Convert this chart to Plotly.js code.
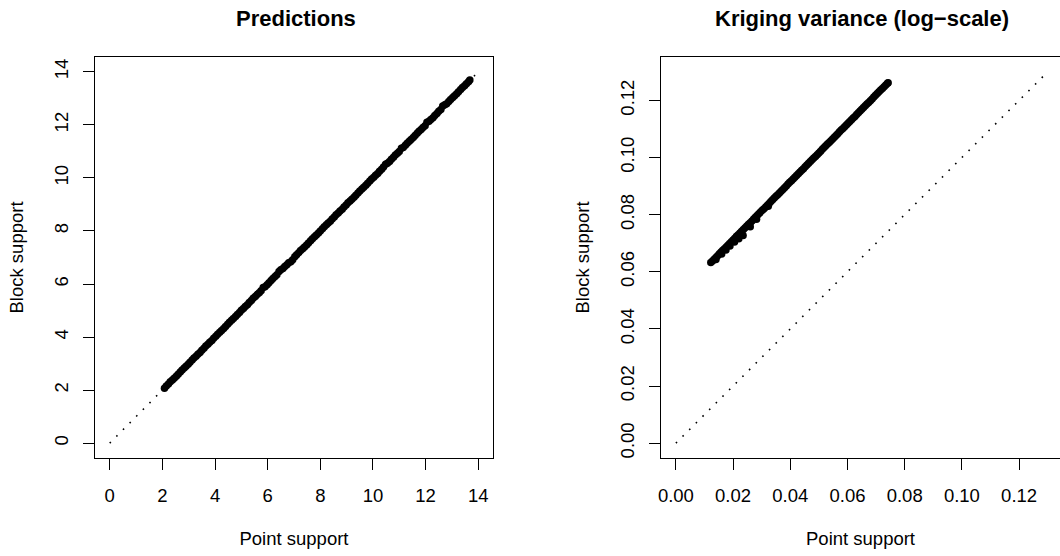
<!DOCTYPE html>
<html>
<head>
<meta charset="utf-8">
<script src="https://cdn.plot.ly/plotly-3.0.1.min.js"></script>
<style>html,body{margin:0;padding:0;background:#fff;}#chart{width:1060px;height:556px;}</style>
</head>
<body>
<div id="chart"></div>
<script>
// Left panel: predictions (point support vs block support)
const predPoint = [2.08,2.15,2.23,2.30,2.38,2.45,2.53,2.60,2.68,2.75,2.83,2.90,2.98,3.05,3.13,3.20,3.28,3.35,3.43,3.50,3.58,3.65,3.73,3.80,3.88,3.95,4.03,4.10,4.18,4.25,4.33,4.40,4.48,4.55,4.63,4.70,4.78,4.85,4.93,5.00,5.08,5.15,5.23,5.30,5.38,5.45,5.53,5.60,5.68,5.75,5.83,5.90,5.98,6.05,6.13,6.20,6.28,6.35,6.43,6.50,6.58,6.65,6.73,6.80,6.88,6.95,7.03,7.10,7.18,7.25,7.33,7.40,7.48,7.55,7.63,7.70,7.78,7.85,7.93,8.00,8.08,8.15,8.23,8.30,8.38,8.45,8.53,8.60,8.68,8.75,8.83,8.90,8.98,9.05,9.13,9.20,9.28,9.35,9.43,9.50,9.58,9.65,9.73,9.80,9.88,9.95,10.03,10.10,10.18,10.25,10.33,10.40,10.48,10.55,10.63,10.70,10.78,10.85,10.93,11.00,11.08,11.15,11.23,11.30,11.38,11.45,11.53,11.60,11.68,11.75,11.83,11.90,11.98,12.05,12.13,12.20,12.28,12.35,12.43,12.50,12.58,12.65,12.73,12.80,12.88,12.95,13.03,13.10,13.18,13.25,13.33,13.40,13.48,13.55,13.63,13.68];
const predBlock = [2.07,2.15,2.23,2.31,2.38,2.45,2.52,2.60,2.68,2.76,2.83,2.90,2.97,3.05,3.13,3.21,3.28,3.35,3.42,3.50,3.58,3.66,3.73,3.80,3.87,3.95,4.03,4.11,4.18,4.25,4.32,4.40,4.48,4.56,4.63,4.70,4.77,4.85,4.93,5.01,5.08,5.15,5.22,5.30,5.38,5.46,5.53,5.60,5.67,5.75,5.87,5.90,5.97,6.05,6.13,6.21,6.28,6.35,6.47,6.54,6.58,6.66,6.73,6.80,6.84,6.91,7.03,7.10,7.18,7.26,7.33,7.40,7.47,7.55,7.63,7.71,7.78,7.85,7.92,8.00,8.08,8.16,8.23,8.30,8.37,8.45,8.53,8.61,8.68,8.75,8.82,8.90,8.98,9.06,9.13,9.20,9.27,9.35,9.43,9.51,9.58,9.65,9.72,9.80,9.88,9.96,10.03,10.10,10.17,10.25,10.33,10.41,10.52,10.55,10.62,10.70,10.78,10.86,10.93,11.00,11.12,11.15,11.23,11.31,11.38,11.45,11.52,11.60,11.68,11.76,11.83,11.90,11.97,12.10,12.14,12.20,12.27,12.35,12.43,12.51,12.58,12.71,12.76,12.80,12.88,12.96,13.03,13.10,13.17,13.25,13.33,13.41,13.48,13.55,13.63,13.69];

// Right panel: kriging variance (point support vs block support)
const varPoint = [0.0122,0.0128,0.0134,0.0140,0.0146,0.0152,0.0158,0.0164,0.0170,0.0176,0.0182,0.0188,0.0194,0.0200,0.0206,0.0212,0.0218,0.0224,0.0230,0.0236,0.0242,0.0248,0.0254,0.0260,0.0266,0.0272,0.0278,0.0284,0.0290,0.0296,0.0302,0.0308,0.0314,0.0320,0.0326,0.0332,0.0338,0.0344,0.0350,0.0356,0.0362,0.0368,0.0374,0.0380,0.0386,0.0392,0.0398,0.0404,0.0410,0.0416,0.0422,0.0428,0.0434,0.0440,0.0446,0.0452,0.0458,0.0464,0.0470,0.0476,0.0482,0.0488,0.0494,0.0500,0.0506,0.0512,0.0518,0.0524,0.0530,0.0536,0.0542,0.0548,0.0554,0.0560,0.0566,0.0572,0.0578,0.0584,0.0590,0.0596,0.0602,0.0608,0.0614,0.0620,0.0626,0.0632,0.0638,0.0644,0.0650,0.0656,0.0662,0.0668,0.0674,0.0680,0.0686,0.0692,0.0698,0.0704,0.0710,0.0716,0.0722,0.0728,0.0734,0.0740,0.0742,
  0.0140,0.0160,0.0175,0.0189,0.0205,0.0220,0.0235,0.0260,0.0282,0.0323];
const varBlock = [0.0632,0.0638,0.0644,0.0650,0.0656,0.0663,0.0669,0.0675,0.0681,0.0687,0.0693,0.0699,0.0705,0.0711,0.0717,0.0724,0.0730,0.0736,0.0742,0.0748,0.0754,0.0760,0.0766,0.0772,0.0778,0.0785,0.0791,0.0797,0.0803,0.0809,0.0815,0.0821,0.0827,0.0833,0.0839,0.0846,0.0852,0.0858,0.0864,0.0870,0.0876,0.0882,0.0888,0.0894,0.0900,0.0907,0.0913,0.0919,0.0925,0.0931,0.0937,0.0943,0.0949,0.0955,0.0961,0.0968,0.0974,0.0980,0.0986,0.0992,0.0998,0.1004,0.1010,0.1016,0.1022,0.1029,0.1035,0.1041,0.1047,0.1053,0.1059,0.1065,0.1071,0.1077,0.1083,0.1090,0.1096,0.1102,0.1108,0.1114,0.1120,0.1126,0.1132,0.1138,0.1144,0.1151,0.1157,0.1163,0.1169,0.1175,0.1181,0.1187,0.1193,0.1199,0.1205,0.1212,0.1218,0.1224,0.1230,0.1236,0.1242,0.1248,0.1254,0.1260,0.1262,
  0.0643,0.0662,0.0676,0.0690,0.0704,0.0716,0.0727,0.0758,0.0784,0.0829];

// 1:1 reference lines
const refPred = [0, 14];
const refVar = [0, 0.13];

const ticksPred = [0,2,4,6,8,10,12,14];
const ticksVar = [0,0.02,0.04,0.06,0.08,0.10,0.12];

const FONT = '"Liberation Sans", Arial, Helvetica, sans-serif';
const dotLine = {color:'#000', width:1.6, dash:'1.6px,7.8px'};
const mk = {color:'#000', size:7.5, symbol:'circle', line:{width:0}};

const traces = [
  {x: refPred, y: refPred, mode:'lines', line: dotLine, xaxis:'x', yaxis:'y', hoverinfo:'skip'},
  {x: predPoint, y: predBlock, mode:'markers', marker: mk, xaxis:'x', yaxis:'y'},
  {x: refVar, y: refVar, mode:'lines', line: dotLine, xaxis:'x2', yaxis:'y2', hoverinfo:'skip'},
  {x: varPoint, y: varBlock, mode:'markers', marker: mk, xaxis:'x2', yaxis:'y2'}
];

const axBase = {
  showgrid:false, zeroline:false, showline:true, linecolor:'#000', linewidth:1,
  ticks:'outside', ticklen:11, tickcolor:'#000', tickwidth:1,
  tickfont:{family:FONT, size:18.5, color:'#000'}
};
const tfont = {family:FONT, size:18.5, color:'#000'};

const layout = {
  width:1060, height:556,
  margin:{l:0,r:0,t:0,b:0},
  paper_bgcolor:'#fff', plot_bgcolor:'#fff',
  showlegend:false,
  font:{family:FONT, color:'#000'},
  xaxis: Object.assign({}, axBase, {domain:[0.0896,0.4651], range:[-0.56,14.56], tickvals:ticksPred, mirror:true, ticklabelstandoff:10,
    title:{text:'Point support', font:tfont, standoff:26}}),
  yaxis: Object.assign({}, axBase, {domain:[0.1763,0.8975], range:[-0.56,14.56], tickvals:ticksPred, mirror:true, tickangle:-90, ticklabelstandoff:8,
    title:{text:'Block support', font:tfont, standoff:22}}),
  xaxis2: Object.assign({}, axBase, {domain:[0.6236,1], range:[-0.0052,0.1343], tickvals:ticksVar, tickformat:'.2f', mirror:true, anchor:'y2', ticklabelstandoff:10,
    title:{text:'Point support', font:tfont, standoff:26}}),
  yaxis2: Object.assign({}, axBase, {domain:[0.1763,0.8975], range:[-0.0052,0.1352], tickvals:ticksVar, tickformat:'.2f', tickangle:-90, anchor:'x2', ticklabelstandoff:8,
    title:{text:'Block support', font:tfont, standoff:22}}),
  annotations:[
    {text:'<b>Predictions</b>', xref:'paper', yref:'paper', x:296/1060, y:1-18/556, xanchor:'center', yanchor:'middle', showarrow:false, font:{family:FONT, size:22, color:'#000'}},
    {text:'<b>Kriging variance (log\u2212scale)</b>', xref:'paper', yref:'paper', x:862/1060, y:1-18/556, xanchor:'center', yanchor:'middle', showarrow:false, font:{family:FONT, size:22, color:'#000'}}
  ]
};

Plotly.newPlot('chart', traces, layout, {displayModeBar:false, staticPlot:true});
</script>
</body>
</html>
